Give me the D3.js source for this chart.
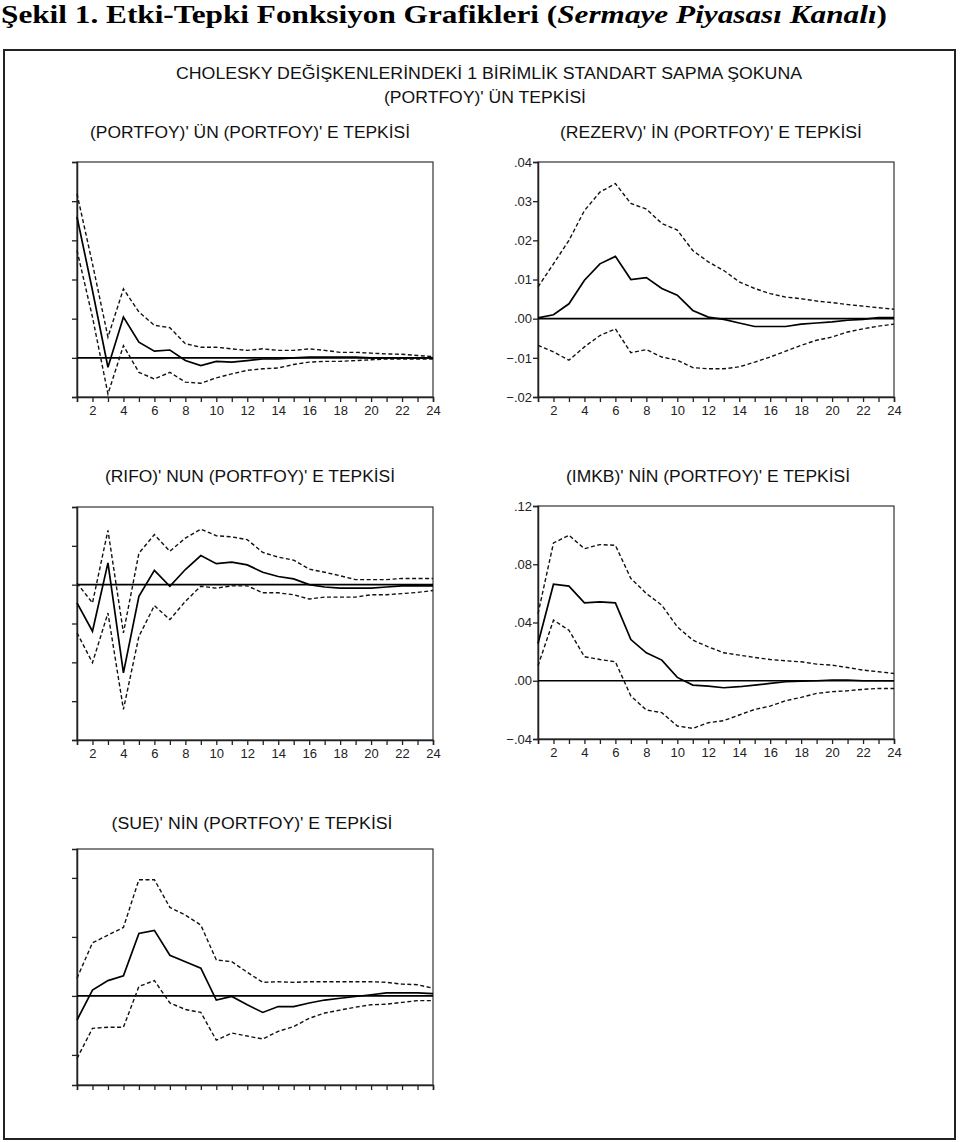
<!DOCTYPE html>
<html><head><meta charset="utf-8">
<script src="https://cdn.jsdelivr.net/npm/d3@7"></script>
<style>body{margin:0;background:#fff}svg{display:block}</style>
</head><body>
<svg id="c" width="960" height="1142"></svg>
<script>
const periods = d3.range(1, 25);
const xTickLabels = [2,4,6,8,10,12,14,16,18,20,22,24];

// PORTFOY -> PORTFOY
const p1Mid = [0.036,0.0172,-0.0024,0.0104,0.004,0.0017,0.002,-0.0007,-0.002,-0.0009,-0.0011,-0.0007,-0.0003,-0.0003,0,0.0002,0.0002,0.0002,0.0002,0,0,0,0,0];
const p1Up  = [0.0419,0.024,0.0053,0.0176,0.0117,0.0083,0.0077,0.0036,0.0027,0.0027,0.0023,0.0019,0.0023,0.0019,0.0019,0.0023,0.0019,0.0014,0.0014,0.0012,0.001,0.0009,0.0006,0.0003];
const p1Lo  = [0.0274,0.0104,-0.0092,0.0031,-0.0037,-0.0054,-0.0037,-0.0062,-0.0065,-0.0051,-0.0041,-0.0032,-0.0028,-0.0026,-0.0017,-0.0011,-0.0009,-0.0009,-0.0007,-0.0005,-0.0003,-0.0003,-0.0003,-0.0003];
const p1Ticks = [-0.01,0,0.01,0.02,0.03,0.04,0.05];

// REZERV
const p2Mid = [0.0002,0.001,0.0038,0.0098,0.014,0.0159,0.01,0.0105,0.0077,0.006,0.0021,0.0004,-0.0002,-0.0011,-0.002,-0.002,-0.002,-0.0014,-0.0011,-0.0008,-0.0004,-0.0002,0.0003,0.0003];
const p2Up  = [0.0081,0.014,0.02,0.0276,0.0323,0.0345,0.0294,0.028,0.0243,0.0226,0.0174,0.0145,0.0123,0.0094,0.0077,0.0064,0.0055,0.0051,0.0045,0.0041,0.0036,0.0032,0.0028,0.0024];
const p2Lo  = [-0.0068,-0.0085,-0.0106,-0.0072,-0.0043,-0.0026,-0.0087,-0.0079,-0.0098,-0.0106,-0.0125,-0.0128,-0.0128,-0.0123,-0.0111,-0.0098,-0.0083,-0.0068,-0.0055,-0.0047,-0.0034,-0.0026,-0.0019,-0.0014];
const p2Ticks = [-0.02,-0.01,0,0.01,0.02,0.03,0.04];

// RIFO
const p3Mid = [-0.0047,-0.012,0.0056,-0.0227,-0.003,0.0037,-0.0004,0.0039,0.0075,0.0054,0.0058,0.0051,0.0032,0.0021,0.0015,0,-0.0006,-0.0009,-0.0009,-0.0009,-0.0006,-0.0003,-0.0003,-0.0003];
const p3Up  = [0.0004,-0.0047,0.014,-0.0124,0.0081,0.0129,0.0086,0.012,0.0143,0.0126,0.0123,0.0116,0.0083,0.0071,0.0063,0.004,0.0032,0.0023,0.0013,0.0013,0.0013,0.0016,0.0016,0.0016];
const p3Lo  = [-0.0124,-0.0201,-0.0073,-0.0321,-0.0133,-0.0054,-0.009,-0.0043,-0.0004,-0.0009,-0.0003,-0.0003,-0.0021,-0.0021,-0.0026,-0.0037,-0.0032,-0.0032,-0.0032,-0.0026,-0.0026,-0.0023,-0.002,-0.0015];
const p3Ticks = [-0.04,-0.03,-0.02,-0.01,0,0.01,0.02];

// IMKB
const p4Mid = [0.0256,0.0663,0.065,0.0535,0.0542,0.0535,0.0283,0.0192,0.0142,0.0023,-0.003,-0.0037,-0.0048,-0.0041,-0.003,-0.0018,-0.0007,-0.0002,0,0.0005,0.0005,0,0,0];
const p4Up  = [0.046,0.0946,0.0999,0.0907,0.0935,0.093,0.0702,0.0599,0.0519,0.037,0.0279,0.0233,0.0192,0.0176,0.016,0.0146,0.0137,0.013,0.0114,0.0107,0.0091,0.0073,0.0062,0.005];
const p4Lo  = [0.0103,0.0416,0.0347,0.0165,0.0146,0.013,-0.0105,-0.0201,-0.0219,-0.0311,-0.0327,-0.0288,-0.0274,-0.0235,-0.0197,-0.0174,-0.0137,-0.0114,-0.0087,-0.0075,-0.0069,-0.0059,-0.0053,-0.0053];
const p4Ticks = [-0.04,0,0.04,0.08,0.12];

// SUE
const p5Mid = [-0.0041,0.001,0.0026,0.0034,0.0106,0.0111,0.0069,0.0058,0.0047,-0.0007,-0.0001,-0.0015,-0.0028,-0.0018,-0.0018,-0.0012,-0.0007,-0.0004,-0.0001,0.0002,0.0005,0.0005,0.0005,0.0004];
const p5Up  = [0.003,0.009,0.0103,0.0116,0.0197,0.0197,0.015,0.0137,0.012,0.0061,0.0058,0.004,0.0023,0.0024,0.0023,0.0024,0.0024,0.0024,0.0024,0.0024,0.0023,0.002,0.0019,0.0013];
const p5Lo  = [-0.0106,-0.0055,-0.0053,-0.0053,0.0016,0.0026,-0.0012,-0.0023,-0.0028,-0.0075,-0.0063,-0.0068,-0.0073,-0.006,-0.0052,-0.0038,-0.0029,-0.0024,-0.0019,-0.0015,-0.0014,-0.0011,-0.0008,-0.0008];
const p5Ticks = [-0.01,0,0.01,0.02];

const figTitle = "Şekil 1. Etki-Tepki Fonksiyon Grafikleri (";
const figTitleItalic = "Sermaye Piyasası Kanalı";
const header1 = "CHOLESKY DEĞİŞKENLERİNDEKİ 1 BİRİMLİK STANDART SAPMA ŞOKUNA";
const header2 = "(PORTFOY)' ÜN TEPKİSİ";
const panelTitles = [
  "(PORTFOY)' ÜN (PORTFOY)' E TEPKİSİ",
  "(REZERV)' İN (PORTFOY)' E TEPKİSİ",
  "(RIFO)' NUN (PORTFOY)' E TEPKİSİ",
  "(IMKB)' NİN (PORTFOY)' E TEPKİSİ",
  "(SUE)' NİN (PORTFOY)' E TEPKİSİ"
];

const svg = d3.select("#c");
const sans = "'Liberation Sans', Arial, sans-serif";

// figure title
const t = svg.append("text").attr("x", 1).attr("y", 23)
  .attr("font-family", "'Liberation Serif', 'Times New Roman', serif")
  .attr("font-weight", "bold").attr("font-size", 26).attr("fill", "#000");
t.append("tspan").text(figTitle);
t.append("tspan").attr("font-style", "italic").text(figTitleItalic);
t.append("tspan").text(")");
t.attr("textLength", 886).attr("lengthAdjust", "spacingAndGlyphs");

// frame
svg.append("rect").attr("x", 4).attr("y", 50).attr("width", 951).attr("height", 1089)
  .attr("fill", "none").attr("stroke", "#222").attr("stroke-width", 2);

svg.append("text").attr("x", 489).attr("y", 79).attr("text-anchor", "middle")
  .attr("font-family", sans).attr("font-size", 16).attr("fill", "#111")
  .attr("textLength", 626).attr("lengthAdjust", "spacingAndGlyphs").text(header1);
svg.append("text").attr("x", 485).attr("y", 103).attr("text-anchor", "middle")
  .attr("font-family", sans).attr("font-size", 16).attr("fill", "#111")
  .attr("textLength", 202).attr("lengthAdjust", "spacingAndGlyphs").text(header2);

const panels = [
  {l:77, r:433, t:162, b:397, dom:[-0.01,0.05], ticks:p1Ticks, mid:p1Mid, up:p1Up, lo:p1Lo, title:panelTitles[0], tx:250, ty:138, tl:320, ylab:"clip", xlab:true},
  {l:538, r:894, t:162, b:397, dom:[-0.02,0.04], ticks:p2Ticks, mid:p2Mid, up:p2Up, lo:p2Lo, title:panelTitles[1], tx:711, ty:138, tl:302, ylab:"full", xlab:true},
  {l:77, r:433, t:507, b:740, dom:[-0.04,0.02], ticks:p3Ticks, mid:p3Mid, up:p3Up, lo:p3Lo, title:panelTitles[2], tx:250, ty:482, tl:290, ylab:"clip", xlab:true},
  {l:538, r:894, t:506, b:739, dom:[-0.04,0.12], ticks:p4Ticks, mid:p4Mid, up:p4Up, lo:p4Lo, title:panelTitles[3], tx:708, ty:482, tl:284, ylab:"full", xlab:true},
  {l:77, r:433, t:849, b:1085, dom:[-0.0151,0.0249], ticks:p5Ticks, mid:p5Mid, up:p5Up, lo:p5Lo, title:panelTitles[4], tx:252, ty:829, tl:281, ylab:"clip", xlab:false}
];

const fmt = v => { if (v === 0) return ".00"; const s = d3.format(".2f")(v); return s.replace("0.", "."); };

panels.forEach((p, i) => {
  const x = d3.scaleLinear().domain([1, 24]).range([p.l, p.r]);
  const y = d3.scaleLinear().domain(p.dom).range([p.b, p.t]);
  const g = svg.append("g");

  g.append("text").attr("x", p.tx).attr("y", p.ty).attr("text-anchor", "middle")
    .attr("font-family", sans).attr("font-size", 16).attr("fill", "#111")
    .attr("textLength", p.tl).attr("lengthAdjust", "spacingAndGlyphs").text(p.title);

  // plot frame
  g.append("rect").attr("x", p.l).attr("y", p.t).attr("width", p.r - p.l).attr("height", p.b - p.t)
    .attr("fill", "none").attr("stroke", "#333").attr("stroke-width", 1.2);

  // y axis
  const yAxis = d3.axisLeft(y).tickValues(p.ticks).tickSize(5).tickFormat(fmt);
  const ya = g.append("g").attr("transform", `translate(${p.l},0)`).call(yAxis);
  ya.select(".domain").attr("stroke", "#222").attr("stroke-width", 1.5);
  ya.selectAll(".tick line").attr("stroke", "#222").attr("stroke-width", 1.3);
  ya.selectAll("text").attr("font-family", sans).attr("font-size", 13).attr("fill", "#222").attr("x", -6);
  if (p.ylab === "clip") {
    const cid = "clipY" + i;
    svg.append("clipPath").attr("id", cid).append("rect")
      .attr("x", -11).attr("y", p.t - 20).attr("width", 2.5).attr("height", p.b - p.t + 40);
    ya.selectAll(".tick text").attr("clip-path", `url(#${cid})`).attr("fill", "#666").attr("x", -7);
  }

  // x axis
  const xAxis = d3.axisBottom(x).tickValues(periods).tickSize(5)
    .tickFormat(d => (p.xlab && xTickLabels.includes(d)) ? d : "");
  const xa = g.append("g").attr("transform", `translate(0,${p.b})`).call(xAxis);
  xa.select(".domain").attr("stroke", "#222").attr("stroke-width", 1.5);
  xa.selectAll(".tick line").attr("stroke", "#222").attr("stroke-width", 1.3);
  xa.selectAll("text").attr("font-family", sans).attr("font-size", 13).attr("fill", "#222").attr("dy", "0.8em");

  // zero line
  g.append("line").attr("x1", p.l).attr("x2", p.r).attr("y1", y(0)).attr("y2", y(0))
    .attr("stroke", "#000").attr("stroke-width", 1.6);

  const line = d3.line().x((d, k) => x(periods[k])).y(d => y(d));
  [p.up, p.lo].forEach(arr => {
    g.append("path").attr("d", line(arr)).attr("fill", "none")
      .attr("stroke", "#111").attr("stroke-width", 1.4).attr("stroke-dasharray", "4,2.5");
  });
  g.append("path").attr("d", line(p.mid)).attr("fill", "none")
    .attr("stroke", "#000").attr("stroke-width", 1.7);
});
</script>
</body></html>
